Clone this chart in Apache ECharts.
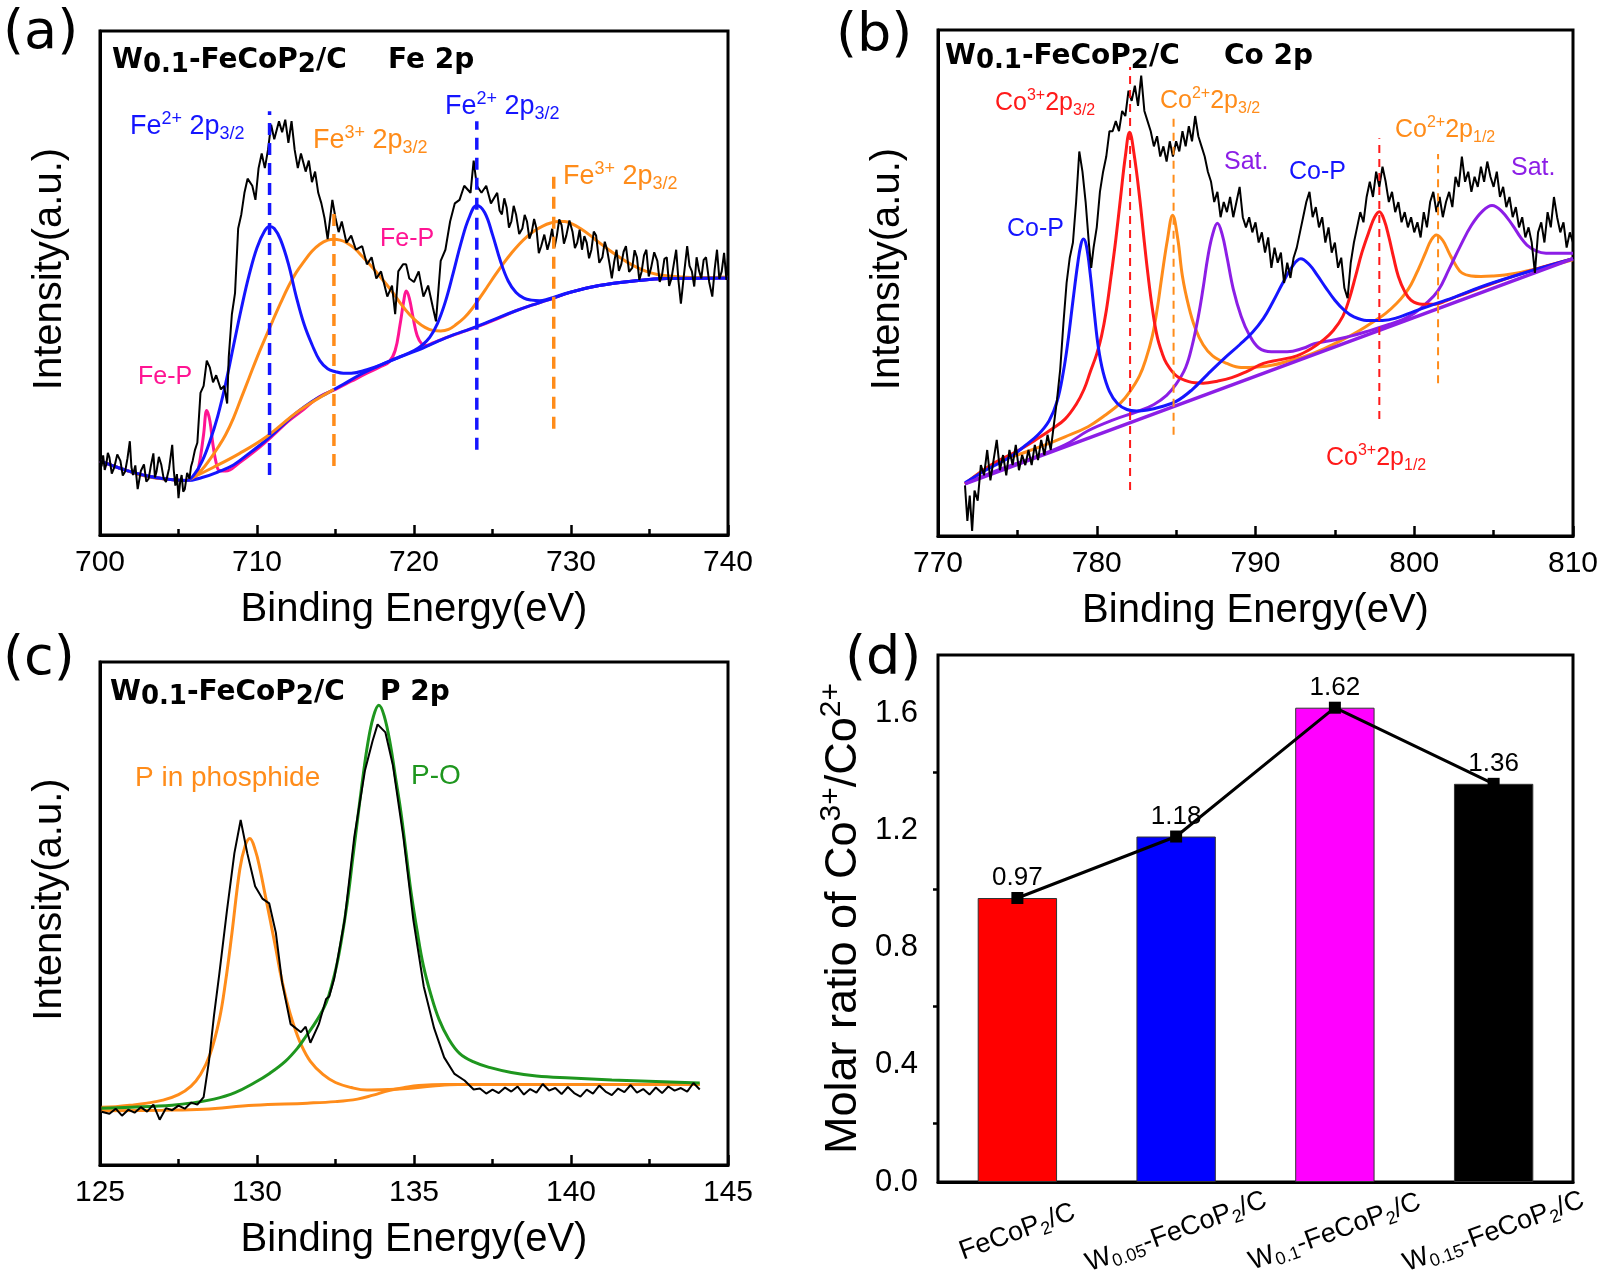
<!DOCTYPE html>
<html lang="en">

<head>
    <meta charset="UTF-8">
    <title>XPS W0.1-FeCoP2/C</title>
    <script src="https://cdn.jsdelivr.net/npm/echarts@6/dist/echarts.min.js"></script>
    <style>
        html, body { margin: 0; padding: 0; background: #fff; }
        #chart { width: 1605px; height: 1274px; }
    </style>
</head>

<body>
    <div id="chart"></div>

    <script>
        // ---- (a) Fe 2p : [binding energy, intensity 0-100] ----
        const feRaw = [[700.0,15.1],[700.1,13.6],[700.2,15.8],[700.3,12.9],[700.4,14.0],[700.5,16.3],[700.6,15.4],[700.75,12.2],[700.9,13.3],[701.1,16.0],[701.3,14.7],[701.45,11.8],[701.6,12.6],[701.75,15.2],[701.9,18.6],[702.0,13.5],[702.1,11.9],[702.25,13.8],[702.4,9.1],[702.6,12.7],[702.8,14.0],[702.95,10.6],[703.1,11.2],[703.25,13.9],[703.4,16.2],[703.5,11.4],[703.6,12.6],[703.75,15.5],[703.9,14.0],[704.05,11.3],[704.2,10.5],[704.4,13.2],[704.6,17.9],[704.7,12.8],[704.8,9.8],[704.9,12.1],[705.0,7.3],[705.1,10.4],[705.2,11.9],[705.3,8.6],[705.4,9.1],[705.55,12.3],[705.7,11.2],[705.8,13.6],[705.9,14.7],[706.05,16.9],[706.2,18.3],[706.4,28.2],[706.6,29.6],[706.8,34.6],[707.0,33.2],[707.2,30.3],[707.4,31.7],[707.7,28.9],[707.9,29.6],[708.1,26.1],[708.2,35.3],[708.4,43.8],[708.6,48.0],[708.8,60.8],[709.0,63.6],[709.2,67.9],[709.4,70.7],[709.7,69.3],[709.9,66.5],[710.1,72.8],[710.3,75.7],[710.5,72.8],[710.7,76.4],[710.9,81.4],[711.1,78.5],[711.4,82.1],[711.6,79.9],[711.8,82.4],[712.0,77.8],[712.2,82.1],[712.4,76.4],[712.6,72.8],[712.8,75.7],[713.1,72.1],[713.3,74.3],[713.5,70.0],[713.7,72.1],[713.9,67.9],[714.1,65.8],[714.3,62.9],[714.5,58.7],[714.8,66.5],[715.0,62.9],[715.2,60.1],[715.4,62.2],[715.7,58.0],[716.0,59.4],[716.3,56.6],[716.7,57.3],[717.0,53.7],[717.3,55.1],[717.6,50.9],[717.9,52.3],[718.3,47.3],[718.6,49.5],[718.8,43.8],[719.0,52.3],[719.3,53.7],[719.5,53.7],[719.7,50.9],[720.0,50.2],[720.3,52.3],[720.6,47.3],[720.9,49.5],[721.2,45.2],[721.4,42.4],[721.7,54.4],[722.0,56.6],[722.3,62.2],[722.6,65.8],[722.9,66.5],[723.2,69.3],[723.6,67.9],[723.8,74.3],[724.0,69.3],[724.3,67.9],[724.6,69.3],[724.9,65.8],[725.3,67.9],[725.45,64.4],[725.6,63.6],[725.75,66.8],[725.9,65.0],[726.05,61.0],[726.2,62.2],[726.35,65.3],[726.5,63.6],[726.7,59.7],[726.9,60.8],[727.05,63.5],[727.2,62.2],[727.35,58.8],[727.5,60.1],[727.65,62.7],[727.8,60.8],[727.95,55.9],[728.1,57.3],[728.3,59.6],[728.5,56.6],[728.65,58.4],[728.8,60.8],[728.95,57.1],[729.1,59.4],[729.25,62.6],[729.4,61.5],[729.55,57.8],[729.7,59.4],[729.9,62.4],[730.1,60.1],[730.25,56.9],[730.4,58.0],[730.55,60.6],[730.7,56.6],[730.85,59.3],[731.0,58.0],[731.15,54.9],[731.3,56.6],[731.45,60.2],[731.6,59.4],[731.8,54.0],[732.0,55.1],[732.15,58.2],[732.3,56.6],[732.45,53.9],[732.6,50.9],[732.75,54.2],[732.9,56.6],[733.05,52.4],[733.2,53.7],[733.35,56.2],[733.5,57.3],[733.7,52.2],[733.9,53.0],[734.05,56.5],[734.2,55.1],[734.35,50.6],[734.5,52.3],[734.65,55.5],[734.8,56.6],[734.95,51.3],[735.1,53.0],[735.3,56.1],[735.5,54.4],[735.65,50.2],[735.8,51.6],[735.95,54.8],[736.1,55.1],[736.25,49.4],[736.4,50.9],[736.55,53.8],[736.7,56.6],[736.85,50.3],[737.0,45.9],[737.2,51.8],[737.4,57.3],[737.55,53.4],[737.7,52.3],[737.85,49.3],[738.0,55.1],[738.15,52.5],[738.3,50.9],[738.45,54.6],[738.6,55.1],[738.8,50.2],[739.0,47.3],[739.15,52.7],[739.3,56.6],[739.45,50.8],[739.6,52.3],[739.75,56.0],[739.9,50.6],[740.0,55.1]];
        const feBase = [[700,14.7],[701.5,13.0],[703,11.7],[704.5,11.0],[705.5,10.8],[706.5,11.4],[707.5,12.5],[708.5,13.9],[709.5,16.2],[710.5,18.6],[711.5,21.4],[712.5,24.2],[713.5,26.5],[714.5,28.2],[715.5,29.9],[716.5,31.7],[717.5,33.2],[718.5,34.6],[719.5,35.8],[720.5,37.0],[721.5,38.4],[722.5,39.7],[723.5,40.8],[724.5,42.0],[725.5,43.3],[726.5,44.5],[727.5,45.6],[728.5,46.6],[730,48.2],[731.8,49.5],[734,50.4],[736.1,50.9],[740,51.0]];
        const feBaseOrange = [[705.5,10.8],[707.2,13.4],[708.9,16.2],[710.6,19.5],[712.7,24.7],[714.9,28.9]];
        const feBlue = [[700,14.7],[701.5,13.0],[703,11.7],[704.5,11.0],[705.5,10.8],[706,12.0],[706.5,14.6],[707,18.6],[707.5,23.6],[708,30.0],[708.5,37.5],[709,44.9],[709.5,51.6],[710,57.0],[710.5,60.4],[710.8,61.2],[711.1,60.8],[711.5,58.6],[712,53.8],[712.5,47.3],[713,41.8],[713.5,37.8],[714,34.6],[714.5,33.0],[715,32.4],[715.5,32.1],[716,32.1],[717,32.8],[718,33.9],[719,35.2],[720,36.6],[720.5,37.6],[721,39.2],[721.5,42.0],[722,46.3],[722.5,52.0],[723,58.0],[723.5,62.9],[724,65.4],[724.5,64.0],[725,59.6],[725.5,54.4],[726,50.4],[726.5,48.1],[727,47.0],[727.5,46.6],[728,46.5],[728.5,46.8],[730,48.2],[731.8,49.5],[734,50.4],[736.1,50.9],[740,51.0]];
        const feOrange = [[700,14.7],[701.5,13.0],[703,11.6],[704.5,11.0],[705.5,10.8],[706,11.6],[706.5,13.0],[707,15.0],[707.5,17.3],[708,19.9],[708.5,23.2],[709,27.2],[709.5,31.2],[710,35.2],[710.5,38.9],[711,42.5],[711.5,46.0],[712,49.3],[712.5,52.1],[713,54.3],[713.5,56.3],[714,57.7],[714.5,58.5],[714.9,58.7],[715.3,58.5],[715.7,58.0],[716.2,56.9],[716.7,55.3],[717.2,53.6],[717.7,51.8],[718.2,49.9],[718.7,47.9],[719.2,45.7],[719.7,43.8],[720.2,42.3],[720.7,41.2],[721.2,40.6],[721.7,40.5],[722.2,40.8],[722.7,41.8],[723.2,43.1],[723.7,44.9],[724.2,47.1],[724.7,49.4],[725.2,51.7],[725.7,53.9],[726.2,55.9],[726.7,57.7],[727.2,59.2],[727.7,60.4],[728.2,61.3],[728.7,61.9],[729.2,62.2],[729.6,62.2],[730.1,61.7],[730.6,60.8],[731.2,59.5],[731.8,58.0],[732.4,56.6],[733,55.3],[733.6,54.1],[734.2,53.1],[734.8,52.3],[735.5,51.7],[736.2,51.4],[737,51.2],[738.2,51.1],[740,51.2]];
        const fePink = [[700,14.7],[701.5,13.0],[703,11.7],[704.5,11.0],[705.5,10.8],[706,11.3],[706.2,12.4],[706.4,15.5],[706.6,20.0],[706.8,24.7],[707.0,22.6],[707.2,17.8],[707.4,14.3],[707.6,12.8],[708,12.7],[708.9,14.4],[710,17.0],[711,19.7],[712,22.6],[713,25.0],[714,27.5],[715,28.9],[716,30.5],[717,32.1],[717.8,33.3],[718.4,34.3],[718.8,36.6],[719.1,41.5],[719.35,46.5],[719.5,48.4],[719.7,47.0],[719.95,43.0],[720.2,39.6],[720.5,37.9],[720.8,37.6],[721.2,38.1],[722,39.1],[723,40.2],[724,41.3],[725.3,42.9],[726.5,44.5],[727.5,45.6],[728.5,46.6],[730,48.2],[731.8,49.5],[734,50.4],[736.1,50.9],[740,51.0]];
        // dashed markers: [energy, bottom, top]
        const feDashBlue = [[710.8, 11.9, 84.1], [724.0, 16.9, 82.1]];
        const feDashOrange = [[714.9, 13.7, 65.0], [728.9, 21.1, 72.2]];

        // ---- (b) Co 2p ----
        const coRaw = [[771.7,10],[771.85,3],[772.0,8],[772.15,1],[772.3,9],[772.5,7],[772.7,14],[772.9,12],[773.1,17],[773.3,11],[773.5,15],[773.7,19],[773.9,13],[774.1,16],[774.3,12],[774.5,17],[774.7,14],[774.9,18],[775.1,13],[775.3,16],[775.5,14],[775.7,17],[775.9,14],[776.1,18],[776.3,15],[776.5,19],[776.7,16],[776.9,20],[777.1,17],[777.3,22],[777.5,27],[777.7,33],[777.9,42],[778.1,50],[778.3,55],[778.5,58],[778.7,66],[778.9,76],[779.1,72],[779.3,66],[779.5,58],[779.65,53],[779.8,57],[780.0,61],[780.2,68],[780.4,72],[780.6,75],[780.8,80],[781.0,80],[781.2,82],[781.4,80],[781.6,84],[781.8,83],[782.0,88],[782.2,86],[782.4,89],[782.6,85],[782.8,91],[783.0,84],[783.2,82],[783.4,80],[783.6,77],[783.8,79],[784.0,75],[784.2,77],[784.4,74],[784.6,78],[784.8,75],[785.0,78],[785.2,76],[785.4,80],[785.6,77],[785.8,81],[786.0,78],[786.2,83],[786.4,79],[786.6,77],[786.8,75],[787.0,72],[787.2,70],[787.4,66],[787.6,68],[787.8,63],[788.0,66],[788.2,64],[788.4,67],[788.6,63],[788.8,66],[789.0,69],[789.2,63],[789.4,61],[789.6,63],[789.8,60],[790.0,62],[790.2,58],[790.4,60],[790.6,56],[790.8,59],[791.0,53],[791.2,57],[791.4,54],[791.6,56],[791.8,50],[792.0,54],[792.2,51],[792.4,55],[792.6,57],[792.8,60],[793.0,63],[793.2,66],[793.4,68],[793.6,63],[793.8,65],[794.0,61],[794.2,63],[794.4,58],[794.6,61],[794.8,56],[795.0,58],[795.2,53],[795.4,55],[795.6,49],[795.8,47],[796.0,54],[796.2,58],[796.4,61],[796.6,64],[796.8,62],[797.0,67],[797.2,70],[797.4,67],[797.6,72],[797.8,69],[798.0,73],[798.2,70],[798.4,66],[798.6,68],[798.8,64],[799.0,66],[799.2,62],[799.4,64],[799.6,61],[799.8,63],[800.0,60],[800.2,62],[800.4,59],[800.6,64],[800.8,61],[801.0,66],[801.2,68],[801.4,64],[801.6,67],[801.8,63],[802.0,66],[802.2,68],[802.4,65],[802.6,71],[802.8,69],[803.0,75],[803.2,70],[803.4,72],[803.6,68],[803.8,71],[804.0,69],[804.2,73],[804.4,70],[804.6,74],[804.8,71],[805.0,69],[805.2,72],[805.4,67],[805.6,69],[805.8,65],[806.0,67],[806.2,63],[806.4,65],[806.6,61],[806.8,63],[807.0,59],[807.2,61],[807.4,58],[807.6,52],[807.8,60],[808.0,62],[808.2,58],[808.4,64],[808.6,61],[808.8,67],[809.0,63],[809.2,60],[809.4,62],[809.6,57],[809.8,60],[810.0,58]];
        const coBase = [[771.7,10.3],[810,54.8]];
        const coBlue = [[771.7,10.5],[773,13.0],[774.5,15.5],[775.5,17.9],[776.3,20.0],[777,22.8],[777.5,26.6],[777.9,32.5],[778.2,38.8],[778.5,46.5],[778.8,53.8],[779.0,57.6],[779.16,58.7],[779.35,57.3],[779.6,51.5],[779.85,44.0],[780.1,37.3],[780.4,32.4],[780.8,28.6],[781.3,26.2],[781.9,25.0],[782.5,24.7],[783.2,24.9],[784,25.5],[785,26.6],[786,28.9],[787,32.0],[788,35.0],[789,37.8],[789.8,40.2],[790.5,43.0],[791.1,46.3],[791.7,49.9],[792.3,53.2],[792.85,54.8],[793.4,53.6],[793.9,51.5],[794.4,49.2],[795,46.6],[795.6,44.6],[796.2,43.3],[797,42.6],[798,42.6],[799,43.2],[800,44.4],[802,46.6],[805,50.1],[810,54.8]];
        const coRed = [[771.7,10.3],[773.6,14.5],[775,16.8],[776.25,19.2],[777.2,21.2],[778,23.1],[778.7,26.0],[779.2,29.0],[779.6,32.5],[780,36.0],[780.3,39.5],[780.6,44.5],[780.9,51.3],[781.2,58.6],[781.5,66.9],[781.8,75.0],[782.07,79.8],[782.35,75.5],[782.7,66.9],[783.0,58.0],[783.24,51.3],[783.5,45.0],[783.8,39.5],[784.1,36.3],[784.4,34.1],[785,31.7],[785.8,30.5],[786.7,30.2],[787.6,30.6],[788.5,31.3],[789.5,32.6],[790.5,34.1],[791.5,34.8],[792.6,35.6],[793.5,37.0],[794.3,38.8],[794.9,40.6],[795.5,43.4],[795.9,46.8],[796.3,51.3],[796.7,56.0],[797.2,60.6],[797.5,63.0],[797.8,64.1],[798.1,62.5],[798.4,59.1],[798.7,55.0],[799.0,51.3],[799.4,48.3],[799.8,46.6],[800.5,45.8],[801.3,45.8],[802,46.5],[802.75,47.4],[805,50.0],[807.5,52.6],[810,54.8]];
        const coOrange = [[771.7,10.3],[773.6,14.5],[775,16.0],[776.5,17.7],[778,19.6],[779.45,21.6],[780.5,23.8],[781.5,26.3],[782.1,28.6],[782.7,31.7],[783.1,35.0],[783.5,39.5],[783.8,44.7],[784.1,51.3],[784.45,58.5],[784.78,63.4],[785.1,58.8],[785.4,51.3],[785.8,45.3],[786.2,41.1],[786.7,37.8],[787.3,35.6],[788.2,34.1],[789.1,33.3],[790.1,33.4],[791.1,33.8],[792.1,34.6],[793.1,35.5],[794.3,37.0],[795.5,38.8],[796.5,40.5],[797.5,42.5],[798.2,44.0],[798.9,46.0],[799.4,47.8],[799.8,49.7],[800.3,53.0],[800.7,55.9],[801.05,58.4],[801.4,59.5],[801.8,58.4],[802.2,55.9],[802.6,53.6],[803.0,52.0],[803.6,51.4],[804.2,51.3],[805,51.4],[805.7,51.6],[806.7,52.1],[807.7,52.8],[808.8,53.6],[810,54.6]];
        const coPurple = [[771.7,10.3],[774,13.3],[776,15.5],[778,18.0],[779.45,20.8],[781,22.9],[782.66,24.7],[783.6,26.0],[784.4,27.8],[785.0,30.0],[785.6,33.3],[786.0,37.5],[786.4,43.4],[786.7,49.0],[787.0,55.2],[787.3,59.6],[787.6,61.8],[787.9,59.6],[788.2,55.2],[788.6,48.8],[789.1,43.4],[789.6,39.8],[790.2,37.2],[791.0,36.4],[792.0,36.4],[793.0,37.1],[793.7,38.0],[795.0,38.8],[796.0,39.5],[797.2,40.6],[798.4,41.8],[799.3,42.8],[800.0,44.0],[800.7,45.8],[801.5,48.5],[802.2,52.8],[802.9,57.3],[803.6,61.4],[804.3,64.2],[804.9,65.3],[805.5,64.2],[806.2,61.4],[806.7,59.0],[807.1,57.5],[807.7,56.3],[808.3,55.9],[809.4,55.9],[810,55.9]];
        const coDashRed = [[782.1, 9.1, 92.7], [797.8, 23.1, 78.6]];
        const coDashOrange = [[784.84, 20.0, 82.5], [801.5, 30.2, 75.5]];

        // ---- (c) P 2p ----
        const pRaw = [[125.05,10.6],[125.3,10.2],[125.5,11.2],[125.7,9.8],[125.9,11.0],[126.1,10.4],[126.3,11.5],[126.5,10.6],[126.7,12.0],[126.9,9.0],[127.1,11.3],[127.3,10.9],[127.5,11.8],[127.7,11.2],[127.9,12.4],[128.1,12.0],[128.3,13.5],[128.47,20.6],[128.63,29.7],[128.8,38],[129.04,50.4],[129.28,62],[129.48,68.6],[129.69,62],[129.94,55.4],[130.18,52.9],[130.39,52.0],[130.6,46.2],[130.8,36.3],[131.07,28],[131.4,26.4],[131.55,27.5],[131.7,24.3],[131.97,28],[132.2,33],[132.3,33.5],[132.46,37.1],[132.79,48.7],[133.1,65.3],[133.44,78.5],[133.68,84.3],[133.84,87.6],[134.09,86],[134.33,79.4],[134.66,65.3],[134.98,48.7],[135.31,35.5],[135.64,27.2],[135.96,21.4],[136.29,18.1],[136.61,16.8],[136.9,15.0],[137.1,15.2],[137.3,14.2],[137.5,15.0],[137.7,14.3],[137.9,15.4],[138.1,14.6],[138.3,15.6],[138.5,14.0],[138.7,15.1],[138.9,14.4],[139.1,16.1],[139.3,14.8],[139.5,15.3],[139.7,14.1],[139.9,15.5],[140.1,14.3],[140.3,13.6],[140.5,15.0],[140.7,14.2],[140.9,15.8],[141.1,14.6],[141.3,13.9],[141.5,15.2],[141.7,14.5],[141.9,15.9],[142.1,14.4],[142.3,15.1],[142.5,14.0],[142.7,15.4],[142.9,14.3],[143.1,15.6],[143.3,14.8],[143.5,15.3],[143.7,14.6],[143.9,16.3],[144.1,15.0]];
        const pBase = [[125.05,10.8],[127,10.9],[128.3,11.1],[129.9,11.9],[131.6,12.3],[132.5,12.6],[133.2,13.1],[133.7,13.9],[134.2,14.8],[134.7,15.4],[135.15,15.8],[136,16.0],[144.1,16.0]];
        const pOrange = [[125.05,11.5],[125.5,11.6],[126,11.9],[126.5,12.3],[127,12.9],[127.5,14.0],[127.9,15.7],[128.2,18.0],[128.5,21.9],[128.8,28.9],[129.0,36.5],[129.2,46.0],[129.45,58.7],[129.62,63.4],[129.77,64.9],[129.95,62.5],[130.1,58.7],[130.25,54.0],[130.42,48.7],[130.6,43.0],[130.75,38.0],[130.95,32.5],[131.16,28.0],[131.4,24.0],[131.7,20.6],[132.1,18.0],[132.5,16.4],[133,15.4],[133.5,14.9],[134.2,15.0],[134.8,15.2],[135.6,15.7],[136.4,16.0],[140,16.0],[144.1,16.0]];
        const pGreen = [[125.05,11.3],[126,11.5],[127.3,11.9],[128,12.4],[128.63,13.1],[129.3,14.4],[129.93,16.4],[130.4,18.2],[130.9,20.6],[131.3,23.3],[131.56,25.6],[131.9,28.7],[132.2,32.2],[132.4,36.2],[132.6,41.6],[132.87,52.0],[133.05,61.0],[133.2,68.6],[133.35,76.0],[133.52,83.5],[133.7,89.0],[133.88,91.4],[134.05,89.3],[134.25,83.5],[134.4,77.5],[134.58,70.3],[134.75,62.0],[134.9,54.5],[135.1,46.5],[135.3,39.6],[135.55,33.6],[135.8,28.9],[136.1,25.1],[136.45,22.2],[136.9,20.5],[137.4,19.4],[138.1,18.4],[138.9,17.7],[140,17.3],[141.3,16.9],[142.7,16.6],[144.1,16.3]];

        // ---- (d) Co3+/Co2+ ratio ----
        const samples = ['FeCoP{s|2}/C', 'W{s|0.05}-FeCoP{s|2}/C', 'W{s|0.1}-FeCoP{s|2}/C', 'W{s|0.15}-FeCoP{s|2}/C'];
        const ratios = [0.97, 1.18, 1.62, 1.36];

        const FONT = '"Liberation Sans", Arial, Helvetica, sans-serif';
        const BOLD = '"DejaVu Sans", "Liberation Sans", sans-serif';
        const BLUE = '#1515ff', ORANGE = '#ff8c1a', PINK = '#ff1493', RED = '#ff1a1a', PURPLE = '#8c1ee6', GREEN = '#1e961e';
        const barColors = ['#ff0000', '#0000ff', '#ff00ff', '#000000'];

        const chart = echarts.init(document.getElementById('chart'));

        function energyAxis(i, min, max, step) {
            return {
                type: 'value', gridIndex: i, min: min, max: max, interval: step,
                name: 'Binding Energy(eV)', nameLocation: 'middle', nameGap: 55,
                nameTextStyle: { fontSize: 40, fontFamily: FONT, color: '#000' },
                axisLine: { lineStyle: { color: '#000', width: 3 } },
                axisTick: { inside: true, length: 10, lineStyle: { color: '#000', width: 2.5 } },
                minorTick: { show: true, splitNumber: 2, length: 6, lineStyle: { color: '#000', width: 2.5 } },
                axisLabel: { fontSize: 30, fontFamily: FONT, color: '#000', margin: 13 },
                splitLine: { show: false }, minorSplitLine: { show: false }
            };
        }

        function intensityAxis(i) {
            return {
                type: 'value', gridIndex: i, min: 0, max: 100,
                name: 'Intensity(a.u.)', nameLocation: 'middle', nameGap: 30, nameRotate: 90,
                nameTextStyle: { fontSize: 40, fontFamily: FONT, color: '#000', padding: [0, 0, 0, 28] },
                axisLine: { lineStyle: { color: '#000', width: 3 } },
                axisTick: { show: false }, axisLabel: { show: false }, splitLine: { show: false }
            };
        }

        function fit(i, data, color, width, z) {
            return {
                type: 'line', xAxisIndex: i, yAxisIndex: i, data: data, symbol: 'none',
                smooth: 0.4, lineStyle: { color: color, width: width || 3 },
                z: z || 3, silent: true, animation: false
            };
        }

        function spectrum(i, data) {
            return {
                type: 'line', xAxisIndex: i, yAxisIndex: i, data: data, symbol: 'none',
                lineStyle: { color: '#000', width: 2 }, z: 6, silent: true, animation: false
            };
        }

        function dashes(i, list, color, width, dash) {
            return list.map(d => ({
                type: 'line', xAxisIndex: i, yAxisIndex: i, data: [[d[0], d[1]], [d[0], d[2]]], symbol: 'none',
                lineStyle: { color: color, width: width, type: dash }, z: 7, silent: true, animation: false
            }));
        }

        // text tags drawn on top of the plots (rich: sup / sub)
        function tag(x, y, text, color, size, bold) {
            const fam = bold ? BOLD : FONT;
            const w = bold ? 'bold' : 'normal';
            const small = bold ? size - 2 : Math.round(size * 0.65);
            return {
                type: 'text', x: x, y: y, z: 100, silent: true,
                style: {
                    text: text, fill: color, fontSize: size, fontFamily: fam, fontWeight: w,
                    lineHeight: size + 6, align: 'left', verticalAlign: 'middle',
                    rich: {
                        sup: { fontSize: small, fontFamily: fam, fontWeight: w, lineHeight: small - 2, verticalAlign: 'top' },
                        s: { fontSize: small, fontFamily: fam, fontWeight: w, lineHeight: small - 2, verticalAlign: 'bottom' }
                    }
                }
            };
        }

        function panelLetter(x, y, t) {
            return { type: 'text', x: x, y: y, z: 100, silent: true,
                style: { text: t, fill: '#000', fontSize: 54, fontFamily: '"DejaVu Sans", sans-serif', align: 'left', verticalAlign: 'middle' } };
        }

        function box(left, top, width, height) {
            return { left: left, top: top, width: width, height: height, show: true,
                borderColor: '#000', borderWidth: 3, outerBoundsMode: 'none', containLabel: false };
        }

        const series = [
            // (a)
            fit(0, fePink, PINK, 3, 2),
            fit(0, feBase, BLUE, 3, 3),
            fit(0, feBaseOrange, ORANGE, 3, 3),
            fit(0, feOrange, ORANGE, 3, 3),
            fit(0, feBlue, BLUE, 3, 4),
            spectrum(0, feRaw),
            ...dashes(0, feDashBlue, BLUE, 3.5, [12, 8]),
            ...dashes(0, feDashOrange, ORANGE, 3.5, [12, 8]),
            // (b)
            fit(1, coOrange, ORANGE, 3, 3),
            fit(1, coPurple, PURPLE, 3, 3),
            fit(1, coRed, RED, 3, 3),
            fit(1, coBlue, BLUE, 3, 3),
            fit(1, coBase, PURPLE, 3.5, 4),
            spectrum(1, coRaw),
            ...dashes(1, coDashRed, RED, 2, [8, 6]),
            ...dashes(1, coDashOrange, ORANGE, 2, [8, 6]),
            // (c)
            fit(2, pBase, ORANGE, 3, 3),
            fit(2, pOrange, ORANGE, 3, 3),
            fit(2, pGreen, GREEN, 3, 4),
            spectrum(2, pRaw),
            // (d)
            {
                type: 'bar', xAxisIndex: 3, yAxisIndex: 3, barWidth: '50%',
                data: ratios.map((v, k) => ({ value: v, itemStyle: { color: barColors[k] } })),
                itemStyle: { borderColor: '#333', borderWidth: 1 },
                label: { show: true, position: 'top', distance: 7, fontSize: 26, fontFamily: FONT, color: '#000',
                    formatter: p => p.value.toFixed(2) },
                z: 2, animation: false
            },
            {
                type: 'line', xAxisIndex: 3, yAxisIndex: 3, data: ratios, symbol: 'rect', symbolSize: 12,
                itemStyle: { color: '#000' }, lineStyle: { color: '#000', width: 3 }, z: 5, animation: false
            }
        ];

        chart.setOption({
            backgroundColor: '#fff',
            animation: false,
            grid: [
                box(100, 31, 628, 504),
                box(938, 30, 635, 506),
                box(100, 662, 628, 503),
                box(938, 655, 635, 527)
            ],
            xAxis: [
                energyAxis(0, 700, 740, 10),
                energyAxis(1, 770, 810, 10),
                energyAxis(2, 125, 145, 5),
                {
                    type: 'category', gridIndex: 3, data: samples,
                    axisLine: { lineStyle: { color: '#000', width: 3 } },
                    axisTick: { alignWithLabel: true, length: 8, lineStyle: { color: '#000', width: 2.5 } },
                    axisLabel: {
                        rotate: 20, align: 'center', verticalAlign: 'middle', margin: 50, interval: 0,
                        fontSize: 27, fontFamily: FONT, color: '#000', lineHeight: 32,
                        rich: { s: { fontSize: 18, fontFamily: FONT, lineHeight: 16, verticalAlign: 'bottom', color: '#000' } }
                    },
                    splitLine: { show: false }
                }
            ],
            yAxis: [
                intensityAxis(0),
                intensityAxis(1),
                intensityAxis(2),
                {
                    type: 'value', gridIndex: 3, min: 0, max: 1.8, interval: 0.4,
                    name: 'Molar ratio of Co{sup|3+}/Co{sup|2+}', nameLocation: 'middle', nameGap: 60, nameRotate: 90,
                    nameTextStyle: {
                        fontSize: 45, fontFamily: FONT, color: '#000', lineHeight: 54,
                        rich: { sup: { fontSize: 30, fontFamily: FONT, lineHeight: 28, verticalAlign: 'top', color: '#000' } }
                    },
                    axisLine: { lineStyle: { color: '#000', width: 3 } },
                    axisTick: { length: 9, lineStyle: { color: '#000', width: 2.5 } },
                    minorTick: { show: true, splitNumber: 2, length: 5, lineStyle: { color: '#000', width: 2.5 } },
                    axisLabel: { fontSize: 31, fontFamily: FONT, color: '#000', margin: 20, showMaxLabel: false,
                        formatter: v => v.toFixed(1) },
                    splitLine: { show: false }, minorSplitLine: { show: false }
                }
            ],
            series: series,
            graphic: [
                panelLetter(3, 34, '(a)'),
                panelLetter(836, 37, '(b)'),
                panelLetter(3, 660, '(c)'),
                panelLetter(845, 660, '(d)'),
                // (a)
                tag(112, 61, 'W{s|0.1}-FeCoP{s|2}/C', '#000', 28, true),
                tag(388, 61, 'Fe 2p', '#000', 28, true),
                tag(130, 127, 'Fe{sup|2+} 2p{s|3/2}', BLUE, 27),
                tag(313, 141, 'Fe{sup|3+} 2p{s|3/2}', ORANGE, 27),
                tag(380, 239, 'Fe-P', PINK, 25),
                tag(138, 377, 'Fe-P', PINK, 25),
                tag(445, 107, 'Fe{sup|2+} 2p{s|3/2}', BLUE, 27),
                tag(563, 177, 'Fe{sup|3+} 2p{s|3/2}', ORANGE, 27),
                // (b)
                tag(945, 57, 'W{s|0.1}-FeCoP{s|2}/C', '#000', 28, true),
                tag(1224, 57, 'Co 2p', '#000', 28, true),
                tag(995, 103, 'Co{sup|3+}2p{s|3/2}', RED, 25),
                tag(1160, 101, 'Co{sup|2+}2p{s|3/2}', ORANGE, 25),
                tag(1224, 162, 'Sat.', PURPLE, 25),
                tag(1289, 172, 'Co-P', BLUE, 25),
                tag(1395, 130, 'Co{sup|2+}2p{s|1/2}', ORANGE, 25),
                tag(1511, 168, 'Sat.', PURPLE, 25),
                tag(1007, 229, 'Co-P', BLUE, 25),
                tag(1326, 458, 'Co{sup|3+}2p{s|1/2}', RED, 25),
                // (c)
                tag(110, 693, 'W{s|0.1}-FeCoP{s|2}/C', '#000', 28, true),
                tag(380, 693, 'P 2p', '#000', 28, true),
                tag(135, 778, 'P in phosphide', ORANGE, 28),
                tag(411, 776, 'P-O', GREEN, 28)
            ]
        });
    </script>
</body>

</html>
